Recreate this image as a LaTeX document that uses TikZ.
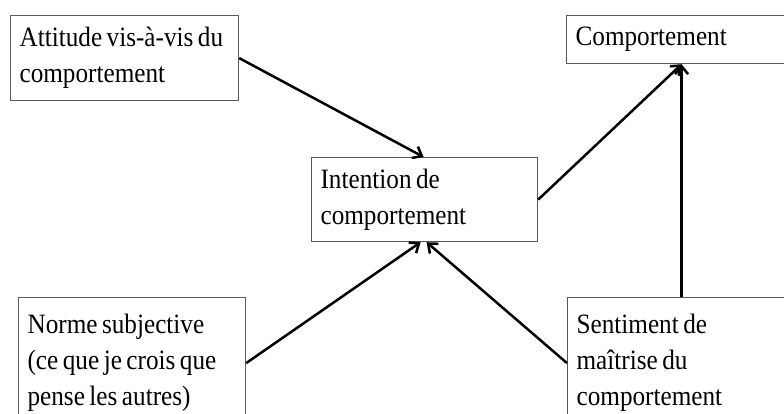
\documentclass[tikz,border=0pt]{standalone}
\usepackage{fontspec}
\setmainfont{Liberation Serif}[FakeStretch=0.9]
\usetikzlibrary{arrows.meta,calc}
\tikzset{
  boxnode/.style={draw=black!65, line width=1.2pt, anchor=north west, align=left,
    inner xsep=9pt, inner ysep=0pt, font=\fontsize{28}{36}\selectfont,
    execute at begin node={\spaceskip=4.5pt\xspaceskip=4.5pt\relax}},
  conn/.style={line width=2.5pt, -{Straight Barb[length=8pt,width=13pt,line width=2.5pt]}}
}
\begin{document}
\begin{tikzpicture}[x=1pt,y=-1pt]
\useasboundingbox (0,0) rectangle (784,414);
\node[boxnode, text width=210pt, minimum height=85pt] (att) at (10,15) {\mbox{Attitude vis-à-vis du}\\comportement};
\node[boxnode, text width=212pt, minimum height=48pt] (comp) at (566,15) {Comportement};
\node[boxnode, text width=208pt, minimum height=84pt] (int) at (311,157) {Intention de\\comportement};
\node[boxnode, text width=209pt, minimum height=131pt] (norm) at (18,297) {\mbox{Norme subjective}\\\mbox{(ce que je crois que}\\\mbox{pense les autres)}};
\node[boxnode, text width=210pt, minimum height=131pt] (sent) at (567,297) {Sentiment de\\\mbox{maîtrise du}\\comportement};
\draw[conn] (att.east) -- ([xshift=-1pt]int.north);
\draw[conn] (norm.east) -- ([xshift=-4pt]int.south);
\draw[conn] (sent.west) -- ([xshift=2pt]int.south);
\draw[conn] (int.east) -- (comp.south);
\draw[conn] (sent.north) -- (comp.south);
\end{tikzpicture}
\end{document}
